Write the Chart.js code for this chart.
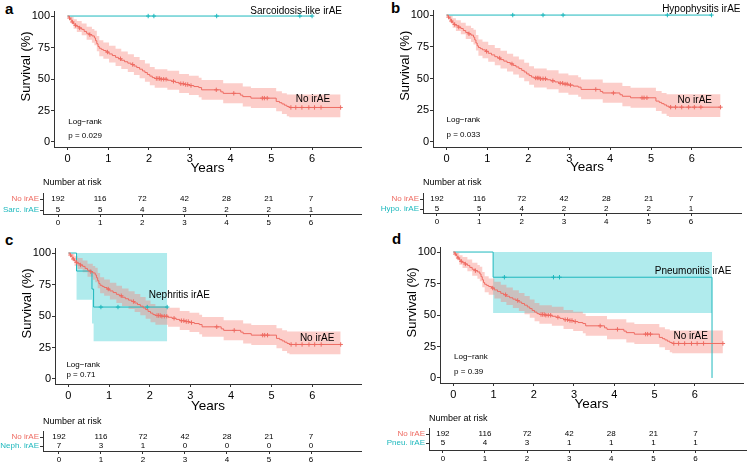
<!DOCTYPE html>
<html>
<head>
<meta charset="utf-8">
<script src="https://cdn.jsdelivr.net/npm/chart.js@4.4.1/dist/chart.umd.min.js"></script>
<style>
  body { margin: 0; background: #fff; width: 748px; height: 464px; position: relative; overflow: hidden;
         font-family: "Liberation Sans", Arial, sans-serif; }
  canvas { position: absolute; }
  .tag { position: absolute; font-weight: bold; font-size: 15px; line-height: 15px; }
</style>
</head>
<body>
<div class="tag" style="left:5px;top:1px">a</div>
<div class="tag" style="left:391px;top:0px">b</div>
<div class="tag" style="left:5px;top:232px">c</div>
<div class="tag" style="left:392px;top:231px">d</div>
<script>
// ticks
var years = [0, 1, 2, 3, 4, 5, 6];
var survTicks = [0, 25, 50, 75, 100];

// No irAE group (n = 192), same curve in all four panels
var noTime = [0, 0.04, 0.08, 0.11, 0.15, 0.19, 0.23, 0.29, 0.35, 0.41, 0.47, 0.54, 0.6, 0.66, 0.69, 0.72, 0.75, 0.78,
  0.83, 0.88, 0.95, 1.02, 1.1, 1.18, 1.25, 1.32, 1.4, 1.48, 1.56, 1.63, 1.7, 1.77, 1.84, 1.9, 1.96, 2.02, 2.08, 2.14,
  2.3, 2.45, 2.55, 2.65, 2.74, 2.85, 2.98, 3.1, 3.22, 3.29, 3.76, 3.82, 4.24, 4.3, 4.5, 5.12, 5.2, 5.26, 5.32, 5.38, 5.44, 6.7];
var noSurv = [100, 98.4, 96.8, 95.3, 93.7, 92.6, 91.6, 90.5, 89.4, 87.8, 86.3, 85.2, 84.2, 82.6, 80.4, 78, 75.8, 74.4,
  73.5, 72.6, 71.4, 69.9, 68.6, 67.2, 66.1, 64.9, 63.7, 62.6, 61.5, 60.3, 59.1, 57.8, 56.4, 55.1, 53.6, 52.3, 51.1, 50.4,
  49.8, 49, 48.2, 47.3, 46.3, 45.6, 44.8, 44, 43.2, 41.4, 39.8, 38.6, 37.2, 36, 34.8, 32.2, 31.2, 30.2, 29.2, 28.2, 27.4, 27.4];
var ciTime = [0, 0.08, 0.15, 0.23, 0.35, 0.47, 0.6, 0.66, 0.72, 0.78, 0.88, 1.02, 1.18, 1.32, 1.48, 1.63, 1.77, 1.9,
  2.02, 2.14, 2.45, 2.74, 2.98, 3.22, 3.29, 3.82, 4.3, 4.5, 5.12, 5.26, 5.38, 5.44, 6.7];
var noUpper = [100, 99.5, 97.5, 96, 94, 91.5, 89.8, 88.4, 84.2, 80.8, 79, 76.5, 74, 71.8, 69.6, 67.4, 65, 62.4,
  59.6, 57.8, 56.5, 54, 52.6, 51, 49.3, 46.6, 44, 42.8, 40.2, 38.6, 37.6, 37.6, 37.6];
var noLower = [100, 94.2, 90, 87.4, 84.8, 81.2, 78.8, 76.9, 72, 68, 66, 63.2, 60.4, 57.9, 55.6, 53.2, 50.6, 47.8,
  45, 43, 41.5, 38.8, 37.2, 35.6, 33.6, 30.8, 28.2, 27, 24.4, 22.2, 20.4, 19.6, 19.6];
var noCensor = [0.05, 0.12, 0.2, 0.3, 0.55, 0.98, 1.3, 1.6, 2.18, 2.22, 2.26, 2.3, 2.36, 2.42, 2.6, 2.78, 2.84, 2.9,
  2.95, 3.03, 3.65, 4.08, 4.78, 4.83, 4.9, 5.48, 5.6, 5.75, 5.92, 6.06, 6.22, 6.7];
var noRisk = [192, 116, 72, 42, 28, 21, 7];

// a: sarcoidosis-like irAE
var sarcTime = [0, 6.0];
var sarcSurv = [100, 100];
var sarcCensor = [1.98, 2.12, 3.66, 5.7, 6.0];
var sarcRisk = [5, 5, 4, 3, 2, 2, 1];

// b: hypophysitis irAE
var hypoTime = [0, 6.48];
var hypoSurv = [100, 100];
var hypoCensor = [1.62, 2.36, 2.85, 5.4, 6.48];
var hypoRisk = [5, 5, 4, 2, 2, 2, 1];

// c: nephritis irAE
var nephTime = [0, 0.2, 0.58, 0.62, 2.43];
var nephSurv = [100, 85.7, 71.4, 57.1, 57.1];
var nephUpper = [100, 100, 100, 100, 100];
var nephLower = [100, 63, 44, 30, 30];
var nephCensor = [0.8, 1.22, 1.94, 2.43];
var nephRisk = [7, 3, 1, 0, 0, 0, 0];

// d: pneumonitis irAE
var pneuTime = [0, 0.99, 6.43];
var pneuSurv = [100, 80, 0];
var pneuUpper = [100, 100, 100];
var pneuLower = [100, 51.6, 51.6];
var pneuCensor = [1.27, 2.49, 2.64];
var pneuRisk = [5, 4, 3, 1, 1, 1, 1];

Chart.defaults.font.family = '"Liberation Sans", Arial, sans-serif';
Chart.defaults.color = '#000';

var RED = '#EE6B62', TEAL = '#1DB8BD';
var RED_FILL = 'rgba(248,118,109,0.36)', TEAL_FILL = 'rgba(0,191,196,0.31)';
var NONE = 'rgba(0,0,0,0)';

var panels = [
  { grp: { label: 'Sarcoidosis-like irAE', short: 'Sarc. irAE', time: sarcTime, surv: sarcSurv, censor: sarcCensor, risk: sarcRisk },
    main: { left: 0, top: 0, areaL: 54, areaR: 361, areaT: 11, areaB: 147, titleY: 167 },
    table: { axisX: 43, right: 361, titleY: 183, rowNo: 199, rowGrp: 210, axisY: 214, xmin: -0.356, xmax: 7.19 },
    text: [
      { t: 'Sarcoidosis-like irAE', x: 5.61, y: 103.8, size: 10, align: 'center' },
      { t: 'No irAE', x: 6.02, y: 34, size: 10, align: 'center' },
      { t: 'Log\u2212rank', x: 0.02, y: 16, size: 8, align: 'left' },
      { t: 'p = 0.029', x: 0.02, y: 4.8, size: 8, align: 'left' }
    ] },
  { grp: { label: 'Hypophysitis irAE', short: 'Hypo. irAE', time: hypoTime, surv: hypoSurv, censor: hypoCensor, risk: hypoRisk },
    main: { left: 374, top: 0, areaL: 433, areaR: 741, areaT: 10, areaB: 147, titleY: 166 },
    table: { axisX: 423, right: 741, titleY: 183, rowNo: 199, rowGrp: 209, axisY: 213, xmin: -0.33, xmax: 7.18 },
    text: [
      { t: 'Hypophysitis irAE', x: 6.23, y: 104.3, size: 10, align: 'center' },
      { t: 'No irAE', x: 6.07, y: 33, size: 10, align: 'center' },
      { t: 'Log\u2212rank', x: 0, y: 17.3, size: 8, align: 'left' },
      { t: 'p = 0.033', x: 0, y: 5.5, size: 8, align: 'left' }
    ] },
  { grp: { label: 'Nephritis irAE', short: 'Neph. irAE', time: nephTime, surv: nephSurv, censor: nephCensor, risk: nephRisk,
           upper: nephUpper, lower: nephLower },
    main: { left: 0, top: 236, areaL: 55, areaR: 361, areaT: 248, areaB: 384, titleY: 405 },
    table: { axisX: 43, right: 361, titleY: 422, rowNo: 437, rowGrp: 446, axisY: 451, xmin: -0.38, xmax: 7.19 },
    text: [
      { t: 'Nephritis irAE', x: 2.73, y: 66.7, size: 10, align: 'center' },
      { t: 'No irAE', x: 6.12, y: 32.5, size: 10, align: 'center' },
      { t: 'Log\u2212rank', x: -0.05, y: 11, size: 8, align: 'left' },
      { t: 'p = 0.71', x: -0.05, y: 3, size: 8, align: 'left' }
    ] },
  { grp: { label: 'Pneumonitis irAE', short: 'Pneu. irAE', time: pneuTime, surv: pneuSurv, censor: pneuCensor, risk: pneuRisk,
           upper: pneuUpper, lower: pneuLower },
    main: { left: 374, top: 236, areaL: 440, areaR: 746, areaT: 247, areaB: 383, titleY: 403 },
    table: { axisX: 429, right: 746, titleY: 419, rowNo: 434, rowGrp: 443, axisY: 450, xmin: -0.33, xmax: 7.2 },
    text: [
      { t: 'Pneumonitis irAE', x: 5.96, y: 84.4, size: 10, align: 'center' },
      { t: 'No irAE', x: 5.9, y: 32.8, size: 10, align: 'center' },
      { t: 'Log\u2212rank', x: 0.02, y: 16.9, size: 8, align: 'left' },
      { t: 'p = 0.39', x: 0.02, y: 5, size: 8, align: 'left' }
    ] }
];

function xy(times, vals) {
  return times.map(function (t, i) { return { x: t, y: vals[i] }; });
}
function survAt(times, surv, t) {
  var v = surv[0];
  for (var i = 0; i < times.length; i++) if (times[i] <= t) v = surv[i];
  return v;
}
function censorPts(times, surv, cens) {
  return cens.map(function (t) { return { x: t, y: survAt(times, surv, t) }; });
}
function makeCanvas(left, top, w, h) {
  var c = document.createElement('canvas');
  c.width = w; c.height = h;
  c.style.left = left + 'px'; c.style.top = top + 'px';
  c.style.width = w + 'px'; c.style.height = h + 'px';
  document.body.appendChild(c);
  return c;
}
function fixTicks(arr) {
  return function (sc) { sc.ticks = arr.map(function (v) { return { value: v }; }); };
}
function noPad(sc) { sc.paddingLeft = 0; sc.paddingRight = 0; sc.paddingTop = 0; sc.paddingBottom = 0; }

function stepLine(data, color) {
  return { data: data, borderColor: color, borderWidth: 1, stepped: true, pointRadius: 0, fill: false };
}
function censorSet(data, color) {
  return { data: data, showLine: false, pointStyle: 'cross', pointRadius: 2.2, pointBorderWidth: 1,
           borderColor: color, pointBorderColor: color };
}
function bandEdge(data, fillColor) {
  return { data: data, borderColor: NONE, borderWidth: 1, stepped: true, pointRadius: 0,
           fill: fillColor ? '-1' : false, backgroundColor: fillColor || NONE };
}

function drawMain(p) {
  var m = p.main, g = p.grp;
  var h = m.titleY + 9 - m.top;
  var cv = makeCanvas(m.left, m.top, 374, h);
  var sets = [
    stepLine(xy(noTime, noSurv), RED),
    censorSet(censorPts(noTime, noSurv, noCensor), RED),
    stepLine(xy(g.time, g.surv), TEAL),
    censorSet(censorPts(g.time, g.surv, g.censor), TEAL),
    bandEdge(xy(ciTime, noUpper)),
    bandEdge(xy(ciTime, noLower), RED_FILL)
  ];
  if (g.upper) {
    sets.push(bandEdge(xy(g.time, g.upper)));
    sets.push(bandEdge(xy(g.time, g.lower), TEAL_FILL));
  }
  var textPlugin = {
    id: 'kmText',
    afterDatasetsDraw: function (chart) {
      var ctx = chart.ctx, xs = chart.scales.x, ys = chart.scales.y;
      ctx.save();
      ctx.fillStyle = '#000';
      ctx.textBaseline = 'middle';
      p.text.forEach(function (it) {
        ctx.font = it.size + 'px "Liberation Sans", Arial, sans-serif';
        ctx.textAlign = it.align;
        ctx.fillText(it.t, xs.getPixelForValue(it.x), ys.getPixelForValue(it.y));
      });
      ctx.translate(chart.chartArea.left - 28, ys.getPixelForValue(60));
      ctx.rotate(-Math.PI / 2);
      ctx.textAlign = 'center';
      ctx.font = '13px "Liberation Sans", Arial, sans-serif';
      ctx.fillText('Survival (%)', 0, 0);
      ctx.restore();
    }
  };
  new Chart(cv, {
    type: 'line',
    data: { datasets: sets },
    options: {
      responsive: false,
      animation: false,
      layout: { padding: { left: 0, right: 374 - (m.areaR - m.left), top: m.areaT - m.top, bottom: 0 } },
      plugins: { legend: { display: false }, tooltip: { enabled: false } },
      scales: {
        x: {
          type: 'linear', min: -0.33, max: 7.2,
          afterBuildTicks: fixTicks(years),
          afterFit: function (sc) { sc.height = h - (m.areaB - m.top); noPad(sc); },
          grid: { drawOnChartArea: false, tickLength: 3, color: '#333' },
          border: { color: '#333', width: 1 },
          ticks: { font: { size: 11 }, padding: 2, maxRotation: 0, color: '#000' },
          title: { display: true, text: 'Years', font: { size: 13.5 }, color: '#000', padding: 0 }
        },
        y: {
          type: 'linear', min: -4, max: 104,
          afterBuildTicks: fixTicks(survTicks),
          afterFit: function (sc) { sc.width = m.areaL - m.left; noPad(sc); },
          grid: { drawOnChartArea: false, tickLength: 3, color: '#333' },
          border: { color: '#333', width: 1 },
          ticks: { font: { size: 11 }, padding: 1, color: '#000' }
        }
      }
    },
    plugins: [textPlugin]
  });
}

function drawTable(p) {
  var t = p.table, g = p.grp, left = p.main.left;
  var top = t.titleY - 10, h = t.axisY + 16 - top;
  var s = t.rowGrp - t.rowNo;
  var cv = makeCanvas(left, top, 374, h);
  var riskPlugin = {
    id: 'riskText',
    afterDraw: function (chart) {
      var ctx = chart.ctx, xs = chart.scales.x, ys = chart.scales.y;
      ctx.save();
      ctx.fillStyle = '#000';
      ctx.textBaseline = 'middle';
      ctx.textAlign = 'left';
      ctx.font = '9px "Liberation Sans", Arial, sans-serif';
      ctx.fillText('Number at risk', chart.chartArea.left, t.titleY - top);
      ctx.textAlign = 'center';
      ctx.font = '8px "Liberation Sans", Arial, sans-serif';
      years.forEach(function (yr, i) {
        ctx.fillText(String(noRisk[i]), xs.getPixelForValue(yr), ys.getPixelForValue(1));
        ctx.fillText(String(g.risk[i]), xs.getPixelForValue(yr), ys.getPixelForValue(0));
      });
      ctx.restore();
    }
  };
  new Chart(cv, {
    type: 'line',
    data: { datasets: [{ data: [] }] },
    options: {
      responsive: false,
      animation: false,
      layout: { padding: { left: 0, right: 374 - (t.right - left), top: t.rowNo - 6 - top, bottom: 0 } },
      plugins: { legend: { display: false }, tooltip: { enabled: false } },
      scales: {
        x: {
          type: 'linear', min: t.xmin, max: t.xmax,
          afterBuildTicks: fixTicks(years),
          afterFit: function (sc) { sc.height = h - (t.axisY - top); noPad(sc); },
          grid: { drawOnChartArea: false, tickLength: 3, color: '#333' },
          border: { color: '#333', width: 1 },
          ticks: { font: { size: 8 }, padding: 1, maxRotation: 0, color: '#000' }
        },
        y: {
          type: 'linear', min: -(t.axisY - t.rowGrp) / s, max: 1 + 6 / s,
          afterBuildTicks: fixTicks([0, 1]),
          afterFit: function (sc) { sc.width = t.axisX - left; noPad(sc); },
          grid: { drawOnChartArea: false, tickLength: 3, color: '#333' },
          border: { color: '#333', width: 1 },
          ticks: {
            font: { size: 8 }, padding: 1,
            callback: function (v) { return v === 1 ? 'No irAE' : g.short; },
            color: function (c) { return c.tick && c.tick.value === 1 ? RED : TEAL; }
          }
        }
      }
    },
    plugins: [riskPlugin]
  });
}

panels.forEach(function (p) { drawMain(p); drawTable(p); });
</script>
</body>
</html>
